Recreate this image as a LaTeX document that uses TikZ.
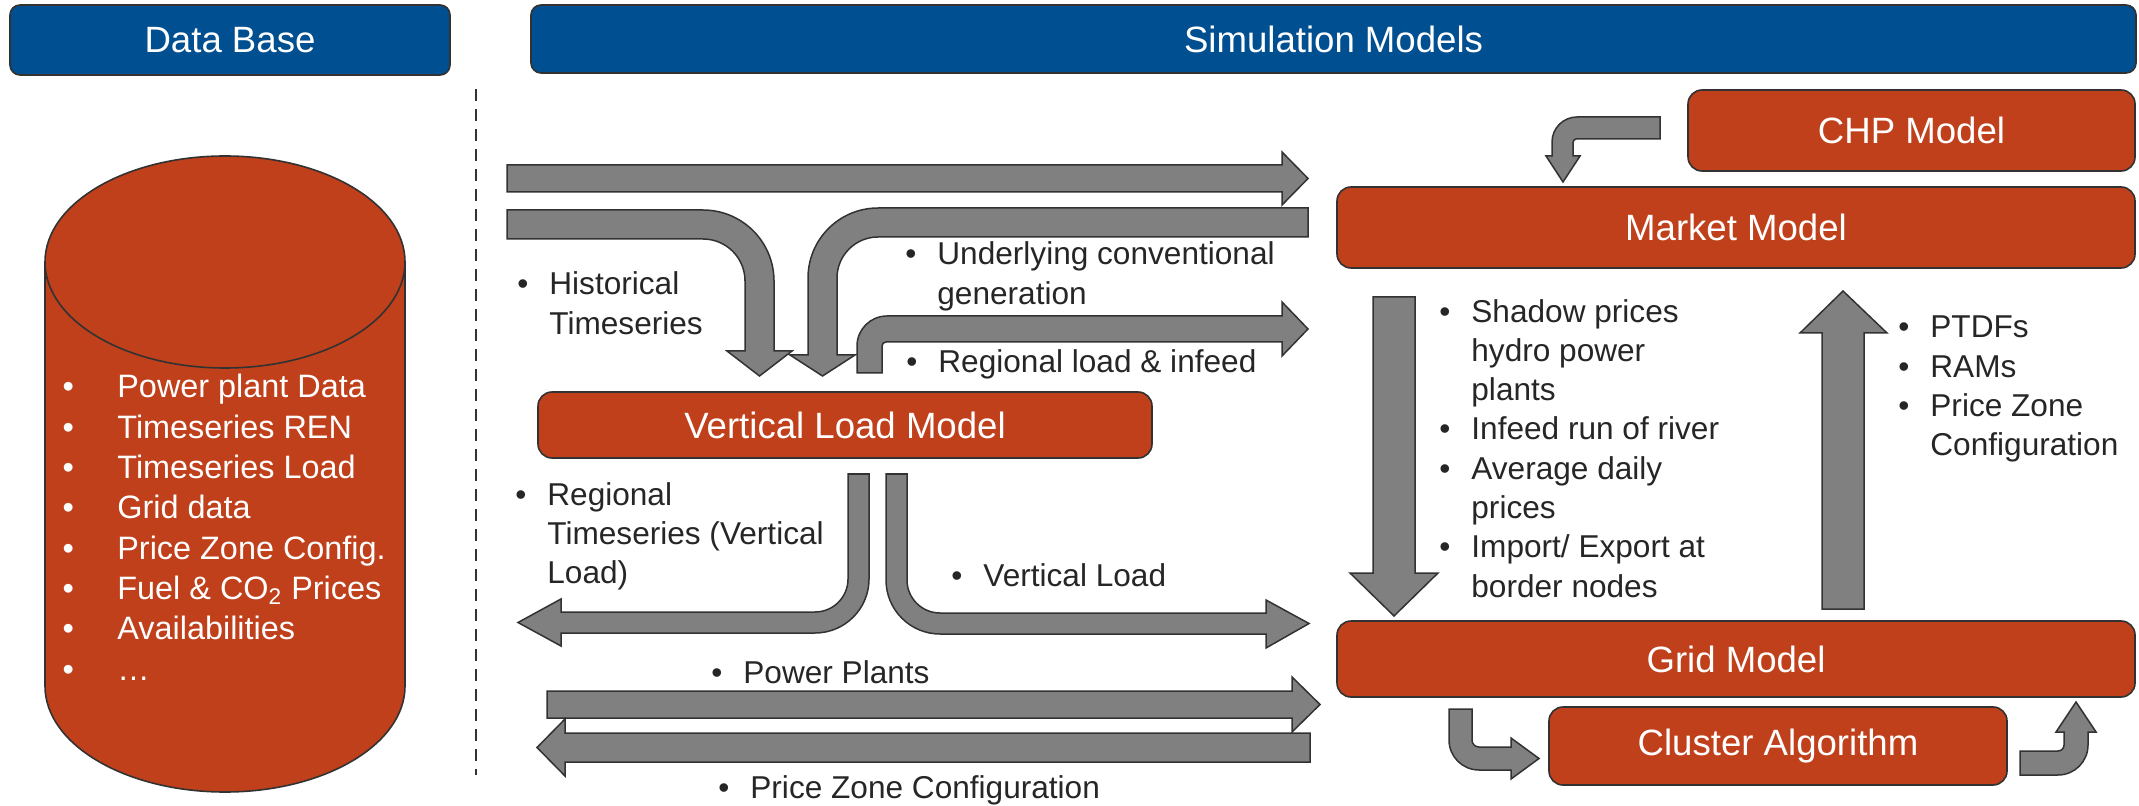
\documentclass[tikz,border=0pt]{standalone}
\usepackage{fontspec}
\setmainfont{Liberation Sans}
\usetikzlibrary{positioning}
\definecolor{headblue}{RGB}{0,79,145}
\definecolor{modelred}{RGB}{191,64,27}
\definecolor{flowgray}{RGB}{128,128,128}
\definecolor{edgegray}{RGB}{50,50,50}
\definecolor{txtgray}{RGB}{38,38,38}
\newcommand{\bul}{\llap{\textbullet\hspace{10.5pt}}}
\newcommand{\dbbul}{\llap{\textbullet\hspace{21.7pt}}}

\begin{document}
\begin{tikzpicture}[x=0.5pt,y=-0.5pt]
        \tikzstyle{head}=[draw=edgegray, line width=0.8pt, fill=headblue, rounded corners=5pt, text=white, font=\fontsize{18.3}{22}\selectfont]
        \tikzstyle{model}=[draw=edgegray, line width=0.8pt, fill=modelred, rounded corners=7pt, text=white, font=\fontsize{18.3}{22}\selectfont]
        \tikzstyle{flow}=[draw=edgegray, line width=0.75pt, fill=flowgray, line join=miter]
        % multi-line notes sit on the baseline of their last line
        \tikzstyle{note}=[text=txtgray, align=left, inner sep=0pt, anchor=base west, font=\fontsize{15.8}{19.65}\selectfont]

        \useasboundingbox (0,0) rectangle (2139,806);

        % Headers
        \node[head, minimum width=220pt, minimum height=35pt] (db) at (230,40) {Data Base};
        \node[head, minimum width=802.5pt, minimum height=34pt] (sim) at (1333.5,39) {Simulation Models};

        % Separator
        \draw[edgegray, line width=1.4pt, dash pattern=on 6pt off 4pt] (476,89) -- (476,775);

        % Data base cylinder
        \filldraw[fill=modelred, draw=edgegray, line width=0.8pt] (45,262) -- (45,686)
            .. controls (45,744.5) and (125.6,792) .. (225,792)
            .. controls (324.4,792) and (405,744.5) .. (405,686) -- (405,262);
        \filldraw[fill=modelred, draw=edgegray, line width=0.8pt] (225,262) ellipse [x radius=180, y radius=106];
        \node[note, text=white, font=\fontsize{16.2}{20.15}\selectfont] (dblist) at (117,680)
            {\dbbul Power plant Data\\\dbbul Timeseries REN\\\dbbul Timeseries Load\\\dbbul Grid data\\
             \dbbul Price Zone Config.\\\dbbul Fuel \& CO\textsubscript{2} Prices\\\dbbul Availabilities\\\dbbul …};

        % Models
        \node[model, minimum width=223.5pt, minimum height=40.5pt] (chp) at (1911.5,130.5) {CHP Model};
        \node[model, minimum width=399pt, minimum height=40.5pt] (market) at (1736,227.5) {Market Model};
        \node[model, minimum width=307pt, minimum height=33pt] (vlm) at (845,425) {Vertical Load Model};
        \node[model, minimum width=399pt, minimum height=38pt] (grid) at (1736,659) {Grid Model};
        \node[model, minimum width=229pt, minimum height=39pt] (cluster) at (1778,746) {Cluster Algorithm};

        % Arrows from the data base
        \filldraw[flow] (507,165) -- (1282,165) -- (1282,152) -- (1308,178.5) -- (1282,205) -- (1282,192) -- (507,192) -- cycle;
        \filldraw[flow] (507,210) -- (703,210) .. controls (742.2,210) and (774,241.8) .. (774,281)
            -- (774,351) -- (792,351) -- (759.5,376) -- (727,351) -- (745,351) -- (745,281)
            .. controls (745,257.8) and (726.2,239) .. (703,239) -- (507,239) -- cycle;
        \filldraw[flow] (1308,208) -- (878,208) .. controls (839.3,208) and (808,239.3) .. (808,278)
            -- (808,355) -- (790,355) -- (822.5,376) -- (855,355) -- (837,355) -- (837,278)
            .. controls (837,255.4) and (855.4,237) .. (878,237) -- (1308,237) -- cycle;
        \filldraw[flow] (857,373) -- (857,346) .. controls (857,329.4) and (870.4,316) .. (887,316)
            -- (1282,316) -- (1282,302) -- (1308,329) -- (1282,356) -- (1282,342) -- (886,342)
            .. controls (883.8,342) and (882,343.8) .. (882,346) -- (882,373) -- cycle;

        % Arrows out of the vertical load model
        \filldraw[flow] (848,474) -- (869,474) -- (869,579) .. controls (869,608.8) and (844.8,633) .. (815,633)
            -- (561,633) -- (561,646) -- (518,622.5) -- (561,599) -- (561,612) -- (815,612)
            .. controls (833.2,612) and (848,597.2) .. (848,579) -- cycle;
        \filldraw[flow] (886,474) -- (907,474) -- (907,580) .. controls (907,598.2) and (921.8,613) .. (940,613)
            -- (1266,613) -- (1266,600) -- (1309,623.5) -- (1266,648) -- (1266,634) -- (940,634)
            .. controls (910.2,634) and (886,609.8) .. (886,580) -- cycle;

        % Power plants and price zones
        \filldraw[flow] (547,691) -- (1292,691) -- (1292,677) -- (1320,704.5) -- (1292,732) -- (1292,718) -- (547,718) -- cycle;
        \filldraw[flow] (1310,733) -- (565,733) -- (565,719) -- (537,747.5) -- (565,776) -- (565,762) -- (1310,762) -- cycle;

        % Coupling of the models
        \filldraw[flow] (1660,117) -- (1577,117) .. controls (1563.2,117) and (1552,128.2) .. (1552,142)
            -- (1552,156) -- (1546,156) -- (1563,182) -- (1580,156) -- (1573,156) -- (1573,143)
            .. controls (1573,141) and (1574,139) .. (1576,139) -- (1660,139) -- cycle;
        \filldraw[flow] (1373,297) -- (1415,297) -- (1415,573) -- (1438,573) -- (1394,616) -- (1350,573) -- (1373,573) -- cycle;
        \filldraw[flow] (1822,609) -- (1822,333) -- (1800,333) -- (1843,291) -- (1887,333) -- (1864,333) -- (1864,609) -- cycle;
        \filldraw[flow] (1449,709) -- (1472,709) -- (1472,740) .. controls (1472,743.9) and (1475.1,747) .. (1479,747)
            -- (1511,747) -- (1511,738) -- (1539,758.5) -- (1511,779) -- (1511,770) -- (1479,770)
            .. controls (1462.4,770) and (1449,756.6) .. (1449,740) -- cycle;
        \filldraw[flow] (2020,751) -- (2058,751) .. controls (2061.3,751) and (2064,748.3) .. (2064,745)
            -- (2064,732) -- (2056,732) -- (2076,702) -- (2096,732) -- (2088,732) -- (2088,745)
            .. controls (2088,761.6) and (2074.6,775) .. (2058,775) -- (2020,775) -- cycle;

        % Labels
        \node[note] (hist) at (549,334.3) {\bul Historical\\Timeseries};
        \node[note] (ucg) at (937,304.3) {\bul Underlying conventional\\generation};
        \node[note] (rli) at (938,373) {\bul Regional load \& infeed};
        \node[note] (rts) at (547,583.6) {\bul Regional\\Timeseries (Vertical\\Load)};
        \node[note] (vl) at (983,586) {\bul Vertical Load};
        \node[note] (pp) at (743,683) {\bul Power Plants};
        \node[note] (pzc) at (750,798) {\bul Price Zone Configuration};
        \node[note] (mtog) at (1471,597.1) {\bul Shadow prices\\hydro power\\plants\\\bul Infeed run of river\\
            \bul Average daily\\prices\\\bul Import/ Export at\\border nodes};
        \node[note] (gtom) at (1930,455.9) {\bul PTDFs\\\bul RAMs\\\bul Price Zone\\Configuration};
\end{tikzpicture}
\end{document}
